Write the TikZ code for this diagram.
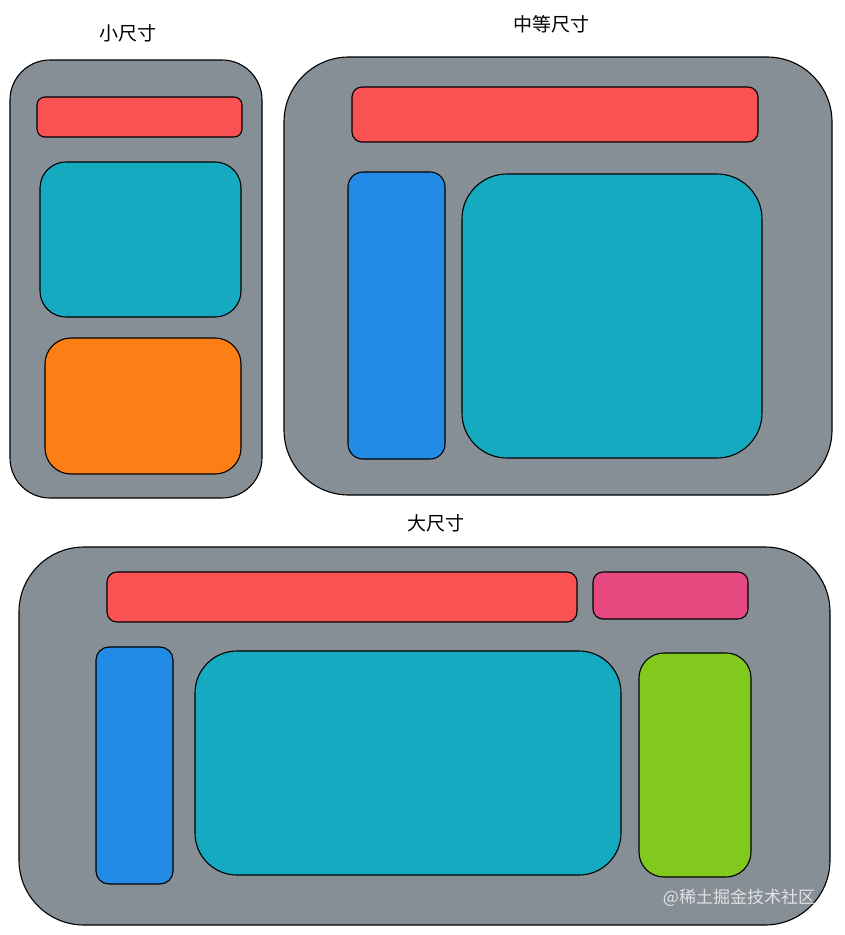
\documentclass[tikz,border=0pt]{standalone}
\usepackage{fontspec}
\newfontfamily\cjk{Noto Sans CJK SC}
\definecolor{exgray}{HTML}{868E96}
\definecolor{exred}{HTML}{FA5252}
\definecolor{exteal}{HTML}{15AABF}
\definecolor{exorange}{HTML}{FD7E14}
\definecolor{exblue}{HTML}{228BE6}
\definecolor{expink}{HTML}{E64980}
\definecolor{exgreen}{HTML}{82C91E}
\begin{document}
\begin{tikzpicture}[x=1pt,y=-1pt,
  sk/.style={draw=black,line width=1.1pt},
  panel/.style={sk,fill=exgray},
  title/.style={font=\cjk\fontsize{19}{22}\selectfont,text=black,inner sep=0pt},
  wm/.style={font=\cjk\fontsize{17}{20}\selectfont,text=white,opacity=0.75,inner sep=0pt}]
\useasboundingbox (0,0) rectangle (844,935);
% small
\node[title] (tsmall) at (128,33) {小尺寸};
\draw[panel,rounded corners=40pt] (10,60) rectangle (262,498);
\draw[sk,fill=exred,rounded corners=8pt] (37,97) rectangle (242,137);
\draw[sk,fill=exteal,rounded corners=26pt] (40,162) rectangle (241,317);
\draw[sk,fill=exorange,rounded corners=26pt] (45,338) rectangle (241,474);
% medium
\node[title] (tmed) at (551,24) {中等尺寸};
\draw[panel,rounded corners=65pt] (284,57) rectangle (832,495);
\draw[sk,fill=exred,rounded corners=10pt] (352,87) rectangle (758,142);
\draw[sk,fill=exblue,rounded corners=15pt] (348,172) rectangle (445,459);
\draw[sk,fill=exteal,rounded corners=45pt] (462,174) rectangle (762,458);
% large
\node[title] (tlarge) at (436,523) {大尺寸};
\draw[panel,rounded corners=65pt] (19,547) rectangle (830,925);
\draw[sk,fill=exred,rounded corners=10pt] (107,572) rectangle (577,622);
\draw[sk,fill=expink,rounded corners=10pt] (593,572) rectangle (748,619);
\draw[sk,fill=exblue,rounded corners=13pt] (96,647) rectangle (173,884);
\draw[sk,fill=exteal,rounded corners=42pt] (195,651) rectangle (621,875);
\draw[sk,fill=exgreen,rounded corners=25pt] (639,653) rectangle (751,877);
\node[wm] (mark) at (739,898) {@稀土掘金技术社区};
\end{tikzpicture}
\end{document}
